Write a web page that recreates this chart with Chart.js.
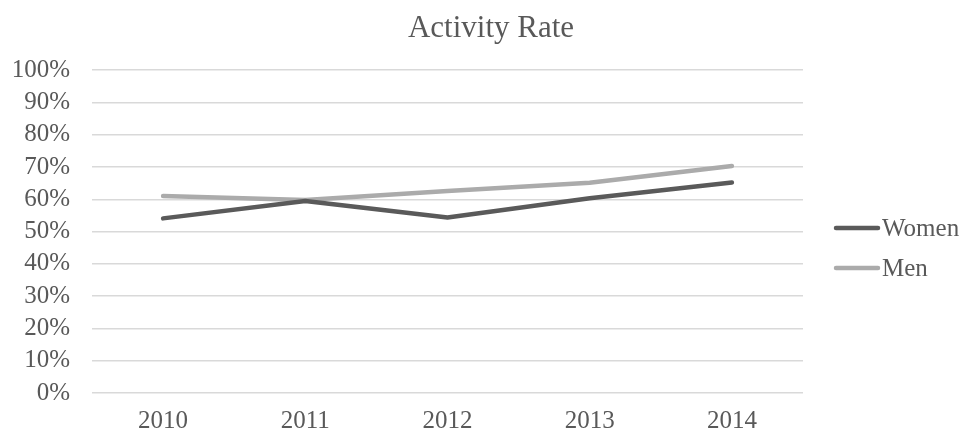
<!DOCTYPE html>
<html>
<head>
<meta charset="utf-8">
<script src="https://cdn.jsdelivr.net/npm/chart.js@4/dist/chart.umd.min.js"></script>
<style>
  html, body { margin: 0; padding: 0; background: #ffffff; }
  #wrap { width: 964px; height: 435px; }
</style>
</head>
<body>
<div id="wrap"><canvas id="chart" width="964" height="435"></canvas></div>
<script>
// Activity rate by year, in percent
const years = ['2010', '2011', '2012', '2013', '2014'];
const women = [54.1, 59.5, 54.4, 60.3, 65.2];
const men = [61.0, 59.8, 62.6, 65.1, 70.3];
const yTicks = [0, 10, 20, 30, 40, 50, 60, 70, 80, 90, 100];

const serif = "'Liberation Serif', 'Times New Roman', serif";
const textColor = '#595959';

// Legend drawn to the right of the plot: short line sample followed by the label
const sideLegend = {
  id: 'sideLegend',
  afterDraw(chart) {
    const ctx = chart.ctx;
    const area = chart.chartArea;
    const x0 = area.right + 33;
    const lineLen = 42;
    const rowGap = 40;
    const startY = 228;
    ctx.save();
    ctx.font = '25px ' + serif;
    ctx.textBaseline = 'middle';
    ctx.textAlign = 'left';
    chart.data.datasets.forEach((ds, i) => {
      const y = startY + i * rowGap;
      ctx.strokeStyle = ds.borderColor;
      ctx.lineWidth = ds.borderWidth;
      ctx.lineCap = 'round';
      ctx.beginPath();
      ctx.moveTo(x0, y);
      ctx.lineTo(x0 + lineLen, y);
      ctx.stroke();
      ctx.fillStyle = textColor;
      ctx.fillText(ds.label, x0 + lineLen + 4, y + 1);
    });
    ctx.restore();
  }
};

new Chart(document.getElementById('chart'), {
  type: 'line',
  data: {
    labels: years,
    datasets: [
      {
        label: 'Women',
        data: women,
        borderColor: '#5a5a5a',
        backgroundColor: '#5a5a5a',
        borderWidth: 4.5,
        borderCapStyle: 'round',
        borderJoinStyle: 'round',
        pointRadius: 0,
        tension: 0
      },
      {
        label: 'Men',
        data: men,
        borderColor: '#ababab',
        backgroundColor: '#ababab',
        borderWidth: 4.5,
        borderCapStyle: 'round',
        borderJoinStyle: 'round',
        pointRadius: 0,
        tension: 0
      }
    ]
  },
  options: {
    responsive: false,
    animation: false,
    layout: { padding: { left: 10, right: -8, top: 0, bottom: 0 } },
    plugins: {
      legend: { display: false },
      tooltip: { enabled: false },
      title: {
        display: true,
        text: 'Activity Rate',
        color: textColor,
        font: { family: serif, size: 31, weight: 'normal' },
        padding: { top: 10, bottom: 23 }
      }
    },
    scales: {
      x: {
        offset: true,
        grid: { display: false, drawTicks: false },
        border: { display: false },
        afterFit(scale) { scale.height = 42; },
        ticks: {
          color: textColor,
          font: { family: serif, size: 25, lineHeight: 1 },
          padding: 16,
          autoSkip: false,
          maxRotation: 0
        }
      },
      y: {
        min: yTicks[0],
        max: yTicks[yTicks.length - 1],
        afterBuildTicks(scale) {
          scale.ticks = yTicks.map(v => ({ value: v }));
        },
        afterFit(scale) { scale.width = 82; },
        grid: { color: '#d9d9d9', lineWidth: 1.5, drawTicks: false },
        border: { display: false },
        ticks: {
          color: textColor,
          font: { family: serif, size: 25 },
          padding: 22,
          autoSkip: false,
          callback: v => v + '%'
        }
      },
      // empty axis on the right that keeps room for the legend
      legendSpace: {
        type: 'linear',
        position: 'right',
        display: true,
        grid: { display: false, drawTicks: false },
        border: { display: false },
        ticks: { display: false },
        afterFit(scale) { scale.width = 169; }
      }
    }
  },
  plugins: [sideLegend]
});
</script>
</body>
</html>
